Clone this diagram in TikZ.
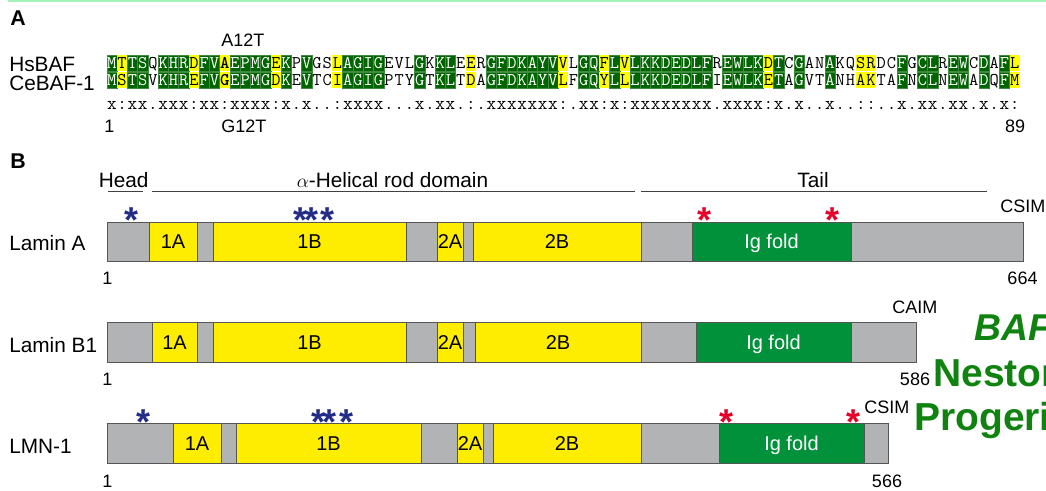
\documentclass[tikz,border=0pt]{standalone}
\usepackage{fontspec}
\setmainfont{Liberation Sans}
\definecolor{seqgreen}{RGB}{0,100,0}
\definecolor{seqyellow}{RGB}{255,255,0}
\definecolor{bargray}{RGB}{178,179,181}
\definecolor{baryellow}{RGB}{255,237,0}
\definecolor{igreen}{RGB}{0,145,58}
\definecolor{outline}{RGB}{85,85,85}
\definecolor{starblue}{RGB}{35,45,135}
\definecolor{starred}{RGB}{230,0,40}
\definecolor{biggreen}{RGB}{15,130,15}
\definecolor{topline}{RGB}{165,242,185}
\newcommand\fsz[1]{\fontsize{#1}{#1}\selectfont}
\newcommand\segbox[8]{%
  \draw[segline,fill=#6] (#2,#4) rectangle (#3,#5);
  \node[bartext,text=#7] (#1) at ({(#2+#3)/2},{(#4+#5)/2}) {#8};}
\tikzset{
  cell/.style={inner sep=0pt, minimum width=7.695pt, text height=8.2pt, text depth=0pt,
    font=\ttfamily\fsz{13.4}},
  rowone/.style={minimum height=11.6pt},
  rowtwo/.style={minimum height=12.2pt},
  bgg/.style={fill=seqgreen, text=white, draw=seqgreen!75!white, line width=0.3pt},
  bgy/.style={fill=seqyellow, text=black},
  bgb/.style={fill=seqyellow, text=black, font=\ttfamily\bfseries\fsz{13.4}},
  bgn/.style={text=black},
  cons/.style={anchor=base, inner sep=0pt, font=\ttfamily\fsz{14}},
  lab/.style={anchor=base west, inner sep=0pt, font=\fsz{15.6}},
  small/.style={inner sep=0pt, font=\fsz{13.5}},
  panel/.style={anchor=base west, inner sep=0pt, font=\bfseries\fsz{16}},
  segline/.style={draw=outline, line width=0.75pt},
  bartext/.style={inner sep=0pt, text height=10.7pt, text depth=0pt, font=\fsz{15}},
  bstar/.style={anchor=base, inner sep=0pt, text=starblue, font=\bfseries\fsz{27}},
  rstar/.style={anchor=base, inner sep=0pt, text=starred, font=\bfseries\fsz{27}},
  rule/.style={draw=black!75, line width=0.75pt},
  big/.style={anchor=base west, inner sep=0pt, text=biggreen, font=\bfseries\fsz{29.25}}
}
\begin{document}
\begin{tikzpicture}[x=0.75pt,y=-0.75pt]
\useasboundingbox (0,0) rectangle (1046,490);
\clip (0,0) rectangle (1046,490);
\fill[white] (0,0) rectangle (1046,490);
\draw[topline, line width=1.5pt] (8,0.8) -- (1046,0.8);

% ---------- Panel A ----------
\node[panel] (pA) at (10,25) {A};
\node[small, anchor=base west] (a12) at (221,46) {A12T};
\node[lab] (hs) at (9,71) {HsBAF};
\node[lab] (ce) at (9,90) {CeBAF-1};
\foreach \a/\b/\s/\k [count=\i] in {M/M/g/x, T/S/y/:, T/T/g/x, S/S/g/x, Q/V/n/., K/K/g/x, H/H/g/x, R/R/g/x, D/E/y/:, F/F/g/x,
 V/V/g/x, A/G/b/:, E/E/g/x, P/P/g/x, M/M/g/x, G/G/g/x, E/D/y/:, K/K/g/x, P/E/n/., V/V/g/x,
 G/T/n/., S/C/n/., L/I/y/:, A/A/g/x, G/G/g/x, I/I/g/x, G/G/g/x, E/P/n/., V/T/n/., L/Y/n/.,
 G/G/g/x, K/T/n/., K/K/g/x, L/L/g/x, E/T/n/., E/D/y/:, R/A/n/., G/G/g/x, F/F/g/x, D/D/g/x,
 K/K/g/x, A/A/g/x, Y/Y/g/x, V/V/g/x, V/L/y/:, L/F/n/., G/G/g/x, Q/Q/g/x, F/Y/y/:, L/L/g/x,
 V/L/y/:, L/L/g/x, K/K/g/x, K/K/g/x, D/D/g/x, E/E/g/x, D/D/g/x, L/L/g/x, F/F/g/x, R/I/n/.,
 E/E/g/x, W/W/g/x, L/L/g/x, K/K/g/x, D/E/y/:, T/T/g/x, C/A/n/., G/G/g/x, A/V/n/., N/T/n/.,
 A/A/g/x, K/N/n/., Q/H/n/., S/A/y/:, R/K/y/:, D/T/n/., C/A/n/., F/F/g/x, G/N/n/., C/C/g/x,
 L/L/g/x, R/N/n/., E/E/g/x, W/W/g/x, C/A/n/., D/D/g/x, A/Q/n/., F/F/g/x, L/M/y/:}{
  \node[cell, rowone, bg\s] (h\i) at ({106.7+(\i-0.5)*10.26},63.2) {\a};
  \node[cell, rowtwo, bg\s] (c\i) at ({106.7+(\i-0.5)*10.26},80.2) {\b};
  \node[cons] (k\i) at ({106.7+(\i-0.5)*10.26},109.8) {\k};
}
\node[small, anchor=base] (one) at (109.5,132) {1};
\node[small, anchor=base west] (g12) at (221,132) {G12T};
\node[small, anchor=base] (n89) at (1015,132) {89};

% ---------- Panel B ----------
\node[panel] (pB) at (10,168) {B};
\node[lab] (head) at (98.5,187) {Head};
\node[lab, anchor=base] (rod) at (392.5,187) {$\alpha$-Helical rod domain};
\node[lab, anchor=base] (tail) at (813,187) {Tail};
\draw[rule] (108,191.5) -- (143,191.5);
\draw[rule] (152,191.5) -- (635,191.5);
\draw[rule] (641,191.5) -- (987,191.5);

% Lamin A
\node[lab] (la) at (9,250) {Lamin A};
\draw[segline, fill=bargray] (107,222) rectangle (1023,261);
\segbox{la1a}{149}{197}{222}{261}{baryellow}{black}{1A}
\segbox{la1b}{213}{406}{222}{261}{baryellow}{black}{1B}
\segbox{la2a}{437}{463}{222}{261}{baryellow}{black}{2A}
\segbox{la2b}{473}{641}{222}{261}{baryellow}{black}{2B}
\segbox{laig}{692}{851}{222}{261}{igreen}{white}{Ig fold}
\node[bstar] (las1) at (132,232.5) {*};
\node[bstar] (las2) at (301,232.5) {*};
\node[bstar] (las3) at (312,232.5) {*};
\node[bstar] (las4) at (328,232.5) {*};
\node[rstar] (las5) at (704,232.5) {*};
\node[rstar] (las6) at (832,232.5) {*};
\node[small, anchor=base west] (lacsim) at (1000,212.5) {CSIM};
\node[small, anchor=base] (la1) at (107.5,284) {1};
\node[small, anchor=base] (la664) at (1022.5,284) {664};

% Lamin B1
\node[lab] (lb) at (9,352) {Lamin B1};
\draw[segline, fill=bargray] (107,322) rectangle (916,362);
\segbox{lb1a}{152}{197}{322}{362}{baryellow}{black}{1A}
\segbox{lb1b}{213}{406}{322}{362}{baryellow}{black}{1B}
\segbox{lb2a}{437}{463}{322}{362}{baryellow}{black}{2A}
\segbox{lb2b}{475}{641}{322}{362}{baryellow}{black}{2B}
\segbox{lbig}{696}{851}{322}{362}{igreen}{white}{Ig fold}
\node[small, anchor=base west] (lbcaim) at (892,313.5) {CAIM};
\node[small, anchor=base] (lb1) at (107.5,385) {1};
\node[small, anchor=base] (lb586) at (915,385) {586};

% LMN-1
\node[lab] (lm) at (9,453) {LMN-1};
\draw[segline, fill=bargray] (107,423) rectangle (888,463);
\segbox{lm1a}{173}{221}{423}{463}{baryellow}{black}{1A}
\segbox{lm1b}{236}{421}{423}{463}{baryellow}{black}{1B}
\segbox{lm2a}{457}{483}{423}{463}{baryellow}{black}{2A}
\segbox{lm2b}{493}{641}{423}{463}{baryellow}{black}{2B}
\segbox{lmig}{719}{864}{423}{463}{igreen}{white}{Ig fold}
\node[bstar] (lms1) at (144,434.5) {*};
\node[bstar] (lms2) at (319,434.5) {*};
\node[bstar] (lms3) at (330,434.5) {*};
\node[bstar] (lms4) at (347,434.5) {*};
\node[rstar] (lms5) at (726,434.5) {*};
\node[rstar] (lms6) at (853,434.5) {*};
\node[small, anchor=base west] (lmcsim) at (864,413.5) {CSIM};
\node[small, anchor=base] (lm1) at (107.5,487) {1};
\node[small, anchor=base] (lm566) at (887,487) {566};

% Green title text (cut at the right edge)
\node[big, font=\bfseries\itshape\fsz{28}] (baf) at (974,340) {BAF};
\node[big] (nestor) at (933,386.7) {Nestor};
\node[big] (progeri) at (914,430) {Progeri};
\end{tikzpicture}
\end{document}
